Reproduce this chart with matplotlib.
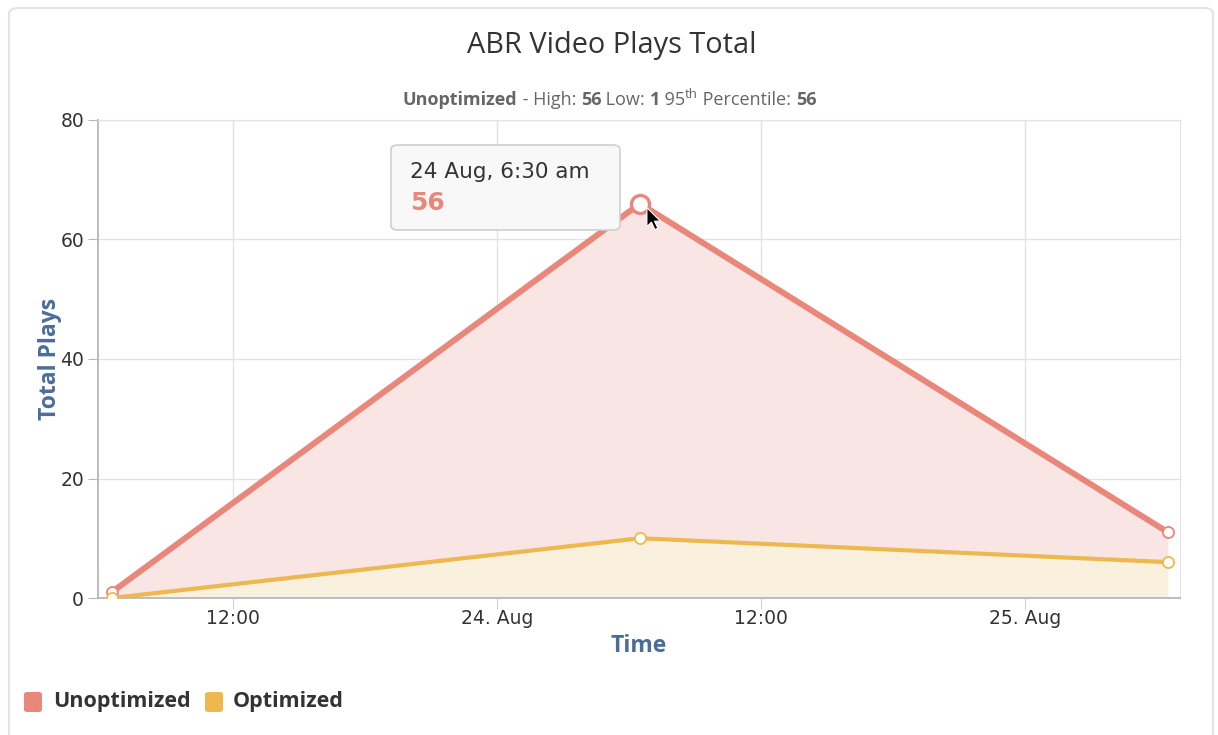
import matplotlib
matplotlib.use("Agg")
import matplotlib.pyplot as plt
import matplotlib.dates as mdates
from matplotlib.patches import FancyBboxPatch, Polygon
import matplotlib.transforms as mtransforms
from datetime import datetime

# ── data ──────────────────────────────────────────────────────────────────
times = [datetime(2017, 8, 23, 6, 30), datetime(2017, 8, 24, 6, 30), datetime(2017, 8, 25, 6, 30)]
unoptimized = [1, 56, 5]
optimized = [0, 10, 6]
series_names = ["Unoptimized", "Optimized"]
hover_index = 1
# ──────────────────────────────────────────────────────────────────────────

RED, RED_FILL = "#e8877a", "#f9e5e3"
YEL, YEL_FILL = "#edb94f", "#faf0de"
AXIS_BLUE = "#4a6d9c"
W, H = 1218, 735

def px(x, y):
    # pixel position (from top-left) -> figure fraction
    return x / W, 1 - y / H

fig = plt.figure(figsize=(W / 100, H / 100), dpi=100)

# card outline
card = FancyBboxPatch(px(9, 800), 1204 / W, 792 / H, boxstyle="round,pad=0,rounding_size=0.008",
                      transform=fig.transFigure, fc="white", ec="#e4e4e4", lw=1.5, zorder=-5)
fig.patches.append(card)

ax = fig.add_axes([98 / W, 1 - 598 / H, (1180 - 98) / W, (598 - 120) / H])
ax.set_facecolor("none")

stack_top = [o + u for o, u in zip(optimized, unoptimized)]
ax.fill_between(times, 0, optimized, color=YEL_FILL, lw=0, zorder=1)
ax.fill_between(times, optimized, stack_top, color=RED_FILL, lw=0, zorder=1)
ax.plot(times, stack_top, color=RED, lw=4.3, zorder=3, solid_capstyle="round")
ax.plot(times, optimized, color=YEL, lw=3.0, zorder=3, solid_capstyle="round")
ax.plot(times, stack_top, ls="none", marker="o", ms=8, mfc="white", mec=RED, mew=1.3, zorder=4)
ax.plot(times, optimized, ls="none", marker="o", ms=8, mfc="white", mec=YEL, mew=1.3, zorder=4)
# hovered point
ax.plot([times[hover_index]], [stack_top[hover_index]], ls="none", marker="o", ms=13,
        mfc="white", mec=RED, mew=2.4, zorder=5, clip_on=False)

ax.set_xlim(datetime(2017, 8, 23, 5, 52), datetime(2017, 8, 25, 7, 3))
ax.set_ylim(0, 80)
ax.set_yticks([0, 20, 40, 60, 80])
ax.xaxis.set_major_locator(mdates.HourLocator(byhour=[0, 12]))

def fmt_time(v, pos):
    d = mdates.num2date(v)
    return d.strftime("%d. %b") if d.hour == 0 else d.strftime("%H:%M")

ax.xaxis.set_major_formatter(plt.FuncFormatter(fmt_time))
ax.grid(True, color="#e3e3e3", lw=1, zorder=0)
ax.set_axisbelow(True)
for s in ("top", "right"):
    ax.spines[s].set_color("#e3e3e3")
for s in ("left", "bottom"):
    ax.spines[s].set_color("#b8b8b8")
    ax.spines[s].set_linewidth(1.3)
ax.tick_params(axis="x", length=8, color="#d0d0d0", labelsize=13.5, pad=0, labelcolor="#333333")
ax.tick_params(axis="y", length=7, color="#b8b8b8", labelsize=13.5, pad=3, labelcolor="#333333")

ax.set_xlabel("Time", fontname="Open Sans", fontweight="bold", fontsize=16.5, color=AXIS_BLUE, labelpad=4)
ax.set_ylabel("Total Plays", fontname="Open Sans", fontweight="bold", fontsize=16.5, color=AXIS_BLUE, labelpad=-1)

# tooltip
tip = FancyBboxPatch(px(391, 230), 229 / W, 85 / H, boxstyle="round,pad=0,rounding_size=0.006",
                     transform=fig.transFigure, fc="#f8f8f8", ec="#cfcfcf", lw=1.2, zorder=10)
fig.patches.append(tip)
fig.text(*px(410, 172), times[hover_index].strftime("%d %b, ") + "6:30 am", ha="left", va="center",
         fontsize=15.5, color="#333333", zorder=11)
fig.text(*px(410, 203), str(unoptimized[hover_index]), ha="left", va="center",
         fontsize=18, fontweight="bold", color=RED, zorder=11)

# title + subtitle
fig.text(*px(612, 46), "ABR Video Plays Total", ha="center", va="center",
         fontname="Open Sans", fontsize=20.8, color="#333333")

sub_parts = [("Unoptimized", "bold", 13, 0), (" - High: ", "normal", 13, 0), ("56", "bold", 13, 0),
             (" Low: ", "normal", 13, 0), ("1", "bold", 13, 0), (" 95", "normal", 13, 0),
             ("th", "normal", 9.5, 6), (" Percentile: ", "normal", 13, 0), ("56", "bold", 13, 0)]
renderer = fig.canvas.get_renderer()
x_cur = 403
for txt, weight, size, rise in sub_parts:
    t = fig.text(*px(x_cur, 100 - rise), txt, ha="left", va="center", fontname="Open Sans",
                 fontweight=weight, fontsize=size, color="#666666")
    x_cur += t.get_window_extent(renderer).width

# mouse pointer next to the hovered point
tip_pt = ax.transData.transform((mdates.date2num(times[hover_index]), stack_top[hover_index]))
cursor_tr = mtransforms.Affine2D().translate(*tip_pt) + mtransforms.ScaledTranslation(7 / 100, -4 / 100, fig.dpi_scale_trans)
cursor = Polygon([(0, 0), (0, -19), (4.5, -14.5), (8, -22), (11, -20.5), (7.5, -13.5), (13.5, -13.5)],
                 closed=True, fc="black", ec="white", lw=0.8, transform=cursor_tr, zorder=20)
fig.patches.append(cursor)

# legend
for (sx, tx), name, col in zip([(24, 53), (205, 233)], series_names, [RED, YEL]):
    sq = FancyBboxPatch(px(sx, 712), 18 / W, 20 / H, boxstyle="round,pad=0,rounding_size=0.003",
                        transform=fig.transFigure, fc=col, ec="none")
    fig.patches.append(sq)
    fig.text(*px(tx, 702), name, ha="left", va="center", fontname="Open Sans",
             fontweight="bold", fontsize=15.5, color="#333333")

fig.savefig("out.png", dpi=100)
